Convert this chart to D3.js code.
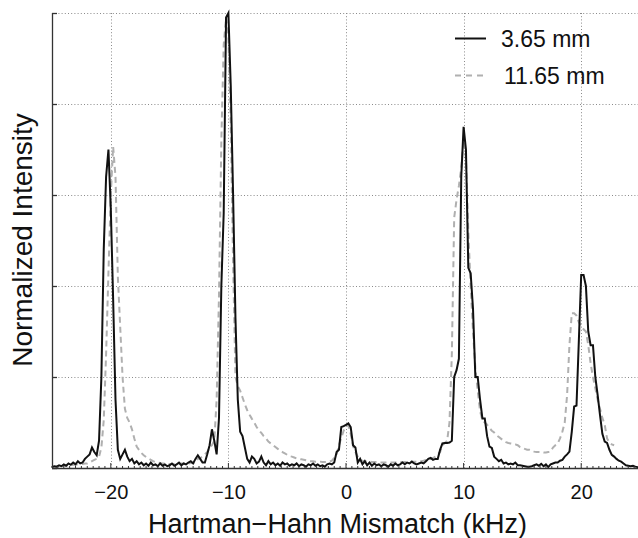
<!DOCTYPE html>
<html>
<head>
<meta charset="utf-8">
<script src="https://cdn.jsdelivr.net/npm/d3@7"></script>
<style>
  html, body { margin: 0; padding: 0; background: #fff; }
  svg { display: block; font-family: "Liberation Sans", Arial, Helvetica, sans-serif; }
</style>
</head>
<body>
<svg id="chart" width="638" height="538"></svg>
<script>
// ---- data (normalized intensity sampled every 0.2 kHz from -25 to 25) ----
const xStart = -25, xStep = 0.2;
const xTicks = [-20, -10, 0, 10, 20];
const yTicks = [0, 0.2, 0.4, 0.6, 0.8, 1.0];
const seriesNames = ["3.65 mm", "11.65 mm"];

const black365 = [
  0.002, 0.004, 0.003, 0.006, 0.004, 0.008, 0.005, 0.010, 0.007, 0.012,
  0.008, 0.015, 0.010, 0.012, 0.020, 0.025, 0.030, 0.045, 0.035, 0.028,
  0.060, 0.200, 0.480, 0.640, 0.700, 0.570, 0.370, 0.150, 0.040, 0.020,
  0.030, 0.040, 0.025, 0.015, 0.020, 0.010, 0.015, 0.008, 0.012, 0.006,
  0.010, 0.005, 0.012, 0.006, 0.008, 0.004, 0.010, 0.005, 0.008, 0.004,
  0.006, 0.010, 0.005, 0.008, 0.012, 0.006, 0.010, 0.008, 0.012, 0.015,
  0.010, 0.020, 0.028, 0.020, 0.012, 0.012, 0.030, 0.050, 0.085, 0.060,
  0.030, 0.110, 0.400, 0.560, 0.990, 1.000, 0.840, 0.600, 0.330, 0.150,
  0.080, 0.070, 0.045, 0.020, 0.012, 0.025, 0.020, 0.010, 0.014, 0.025,
  0.012, 0.006, 0.015, 0.008, 0.012, 0.006, 0.010, 0.005, 0.012, 0.008,
  0.010, 0.005, 0.008, 0.006, 0.010, 0.004, 0.008, 0.006, 0.003, 0.008,
  0.006, 0.010, 0.005, 0.008, 0.004, 0.006, 0.003, 0.008, 0.010, 0.008,
  0.012, 0.035, 0.040, 0.090, 0.092, 0.095, 0.098, 0.090, 0.050, 0.045,
  0.012, 0.020, 0.008, 0.015, 0.006, 0.012, 0.005, 0.010, 0.006, 0.008,
  0.004, 0.008, 0.006, 0.003, 0.008, 0.005, 0.010, 0.006, 0.008, 0.012,
  0.008, 0.012, 0.010, 0.014, 0.010, 0.008, 0.010, 0.012, 0.010, 0.015,
  0.020, 0.022, 0.018, 0.020, 0.020, 0.040, 0.054, 0.055, 0.055, 0.056,
  0.060, 0.200, 0.215, 0.240, 0.640, 0.750, 0.700, 0.440, 0.428, 0.350,
  0.200, 0.200, 0.150, 0.109, 0.109, 0.070, 0.047, 0.044, 0.025, 0.020,
  0.015, 0.018, 0.010, 0.012, 0.008, 0.010, 0.008, 0.012, 0.006, 0.006,
  0.005, 0.004, 0.003, 0.003, 0.004, 0.006, 0.008, 0.005, 0.009, 0.004,
  0.008, 0.002, 0.008, 0.010, 0.012, 0.012, 0.016, 0.018, 0.025, 0.030,
  0.036, 0.080, 0.135, 0.137, 0.280, 0.424, 0.424, 0.400, 0.300, 0.270,
  0.270, 0.200, 0.160, 0.116, 0.075, 0.058, 0.055, 0.040, 0.029, 0.025,
  0.020, 0.016, 0.014, 0.010, 0.006, 0.005, 0.004, 0.005, 0.003, 0.002,
  0.000
];

const grey1165 = [
  0.002, 0.003, 0.003, 0.004, 0.004, 0.005, 0.005, 0.006, 0.006, 0.007,
  0.007, 0.008, 0.008, 0.009, 0.010, 0.010, 0.012, 0.015, 0.018, 0.020,
  0.025, 0.045, 0.105, 0.250, 0.430, 0.600, 0.706, 0.640, 0.420, 0.310,
  0.200, 0.130, 0.110, 0.100, 0.085, 0.065, 0.047, 0.040, 0.033, 0.028,
  0.024, 0.021, 0.018, 0.015, 0.013, 0.012, 0.011, 0.010, 0.010, 0.009,
  0.009, 0.009, 0.009, 0.009, 0.009, 0.010, 0.010, 0.010, 0.010, 0.011,
  0.011, 0.012, 0.020, 0.022, 0.025, 0.030, 0.035, 0.045, 0.050, 0.060,
  0.150, 0.380, 0.720, 0.930, 0.990, 0.950, 0.760, 0.450, 0.200, 0.180,
  0.170, 0.155, 0.140, 0.127, 0.117, 0.108, 0.100, 0.090, 0.083, 0.077,
  0.070, 0.065, 0.058, 0.054, 0.050, 0.046, 0.042, 0.038, 0.035, 0.032,
  0.029, 0.026, 0.025, 0.023, 0.021, 0.020, 0.019, 0.018, 0.017, 0.016,
  0.015, 0.015, 0.014, 0.014, 0.014, 0.013, 0.013, 0.014, 0.014, 0.016,
  0.022, 0.030, 0.050, 0.066, 0.082, 0.092, 0.094, 0.075, 0.048, 0.035,
  0.025, 0.018, 0.016, 0.015, 0.014, 0.014, 0.013, 0.013, 0.013, 0.012,
  0.012, 0.012, 0.012, 0.012, 0.012, 0.012, 0.012, 0.013, 0.013, 0.013,
  0.013, 0.013, 0.013, 0.014, 0.014, 0.014, 0.014, 0.015, 0.016, 0.018,
  0.020, 0.020, 0.022, 0.025, 0.030, 0.035, 0.050, 0.055, 0.060, 0.100,
  0.250, 0.550, 0.590, 0.620, 0.660, 0.720, 0.680, 0.520, 0.400, 0.300,
  0.220, 0.170, 0.125, 0.105, 0.100, 0.095, 0.088, 0.082, 0.078, 0.072,
  0.068, 0.064, 0.060, 0.057, 0.055, 0.054, 0.053, 0.052, 0.050, 0.046,
  0.044, 0.042, 0.040, 0.040, 0.038, 0.036, 0.035, 0.035, 0.035, 0.034,
  0.034, 0.035, 0.036, 0.045, 0.050, 0.054, 0.065, 0.080, 0.100, 0.160,
  0.270, 0.340, 0.340, 0.335, 0.320, 0.312, 0.305, 0.300, 0.270, 0.230,
  0.200, 0.175, 0.150, 0.130, 0.110, 0.095, 0.065, 0.056, 0.052, 0.050,
  null, null, null, null, null, null, null, null, null, null,
  null
];

// ---- layout ----
const W = 638, H = 538;
const mLeft = 52, mTop = 13, mBottom = 468, mRight = 640;

const svg = d3.select("#chart");
const x = d3.scaleLinear().domain([-25, 25]).range([mLeft, mRight]);
const y = d3.scaleLinear().domain([0, 1]).range([mBottom, mTop]);

// gridlines
const grid = svg.append("g").attr("stroke", "#8a8a8a").attr("stroke-width", 1)
  .attr("stroke-dasharray", "1,2.2");
grid.selectAll("line.v").data(xTicks).join("line").attr("class", "v")
  .attr("x1", d => Math.round(x(d)) + 0.5).attr("x2", d => Math.round(x(d)) + 0.5)
  .attr("y1", mTop).attr("y2", mBottom);
grid.selectAll("line.h").data(yTicks.filter(d => d > 0)).join("line").attr("class", "h")
  .attr("x1", mLeft).attr("x2", W)
  .attr("y1", d => Math.round(y(d)) + 0.5).attr("y2", d => Math.round(y(d)) + 0.5);

// series
const pts = arr => arr.map((v, i) => ({ k: xStart + i * xStep, v }));
const line = d3.line().defined(d => d.v != null).x(d => x(d.k)).y(d => y(d.v));

svg.append("path").datum(pts(grey1165))
  .attr("fill", "none").attr("stroke", "#b0b0b0").attr("stroke-width", 2)
  .attr("stroke-dasharray", "6,4").attr("d", line);
svg.append("path").datum(pts(black365))
  .attr("fill", "none").attr("stroke", "#111").attr("stroke-width", 2)
  .attr("stroke-linejoin", "miter").attr("d", line);

// axes
const xAxis = d3.axisBottom(x).tickValues(xTicks).tickSize(0).tickPadding(0)
  .tickFormat(d => d < 0 ? "\u2212" + Math.abs(d) : String(d));
const gx = svg.append("g").attr("transform", `translate(0,${mBottom})`).call(xAxis);
gx.select(".domain").remove();
gx.selectAll("text").attr("font-size", 20).attr("fill", "#111")
  .attr("dy", null).attr("y", 31);

// bottom axis line and ticks
const axisCol = "#333";
svg.append("line").attr("x1", mLeft).attr("x2", W).attr("y1", mBottom + 0.5).attr("y2", mBottom + 0.5)
  .attr("stroke", axisCol).attr("stroke-width", 1.3);
const minor = d3.range(-25, 25.01, 0.5);
svg.append("g").selectAll("line").data(minor).join("line")
  .attr("x1", d => x(d)).attr("x2", d => x(d))
  .attr("y1", mBottom).attr("y2", d => xTicks.includes(d) ? mBottom - 5 : mBottom - 2)
  .attr("stroke", axisCol).attr("stroke-width", 1);

// left axis
svg.append("line").attr("x1", mLeft + 0.5).attr("x2", mLeft + 0.5).attr("y1", mTop).attr("y2", mBottom)
  .attr("stroke", axisCol).attr("stroke-width", 1.3);
svg.append("g").selectAll("line").data(yTicks).join("line")
  .attr("x1", mLeft).attr("x2", mLeft + 5)
  .attr("y1", d => Math.round(y(d)) + 0.5).attr("y2", d => Math.round(y(d)) + 0.5)
  .attr("stroke", axisCol).attr("stroke-width", 1.3);

// axis titles
svg.append("text").attr("x", (147 + 528) / 2).attr("y", 533)
  .attr("text-anchor", "middle").attr("font-size", 27).attr("fill", "#111")
  .text("Hartman\u2212Hahn Mismatch (kHz)");
svg.append("text").attr("transform", "translate(32,240) rotate(-90)")
  .attr("text-anchor", "middle").attr("font-size", 28).attr("fill", "#111")
  .text("Normalized Intensity");

// legend
const leg = svg.append("g");
leg.append("line").attr("x1", 455).attr("x2", 486).attr("y1", 38.5).attr("y2", 38.5)
  .attr("stroke", "#111").attr("stroke-width", 2);
leg.append("line").attr("x1", 455).attr("x2", 486).attr("y1", 75.5).attr("y2", 75.5)
  .attr("stroke", "#b0b0b0").attr("stroke-width", 2).attr("stroke-dasharray", "6,5");
leg.append("text").attr("x", 501).attr("y", 47).attr("font-size", 23).attr("fill", "#111")
  .text(seriesNames[0]);
leg.append("text").attr("x", 504).attr("y", 84).attr("font-size", 23).attr("fill", "#111")
  .text(seriesNames[1]);
</script>
</body>
</html>
